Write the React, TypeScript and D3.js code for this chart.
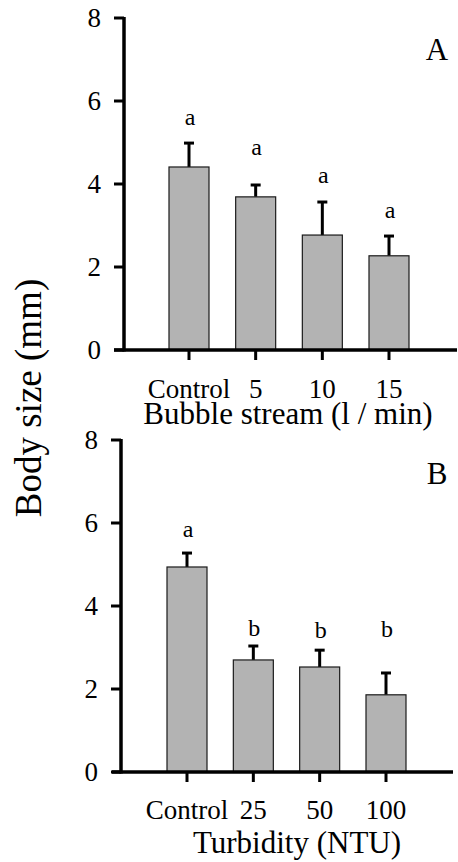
import React from "react";
import * as d3 from "d3";

const yTicks = [0, 2, 4, 6, 8];

const catsA = ["Control", "5", "10", "15"];
const meansA = [4.41, 3.69, 2.77, 2.27];
const errA = [0.6, 0.31, 0.82, 0.5];
const lettersA = ["a", "a", "a", "a"];
const letterLevelA = [5.42, 4.7, 4.02, 3.18];

const catsB = ["Control", "25", "50", "100"];
const meansB = [4.94, 2.7, 2.53, 1.86];
const errB = [0.36, 0.36, 0.43, 0.55];
const lettersB = ["a", "b", "b", "b"];
const letterLevelB = [5.66, 3.28, 3.23, 3.25];

const FONT = "Liberation Serif";

type PanelProps = {
  cats: string[];
  means: number[];
  errs: number[];
  letters: string[];
  letterLevels: number[];
  axisX: number;
  xStart: number;
  xEnd: number;
  firstCenter: number;
  lastCenter: number;
  yTop: number;
  yBottom: number;
  xTitle: string;
  xTitleX: number;
  xTitleY: number;
  tickLabelY: number;
  panelLabel: string;
  panelLabelY: number;
};

function Panel(p: PanelProps) {
  const y = d3.scaleLinear().domain([0, 8]).range([p.yBottom, p.yTop]);
  const x = d3.scalePoint<string>().domain(p.cats).range([p.firstCenter, p.lastCenter]);
  const bw = 40;
  return (
    <g>
      {p.cats.map((c, i) => {
        const cx = x(c)!;
        const top = y(p.means[i]);
        const et = y(p.means[i] + p.errs[i]);
        return (
          <g key={c}>
            <line x1={cx} x2={cx} y1={top} y2={et} stroke="#000" strokeWidth={3} />
            <line x1={cx - 5} x2={cx + 5} y1={et + 1} y2={et + 1} stroke="#000" strokeWidth={3} />
            <rect x={cx - bw / 2} y={top} width={bw} height={y(0) - top} fill="#b3b3b3" stroke="#1a1a1a" strokeWidth={1.2} />
            <text x={cx + 1} y={y(p.letterLevels[i])} style={{ fontFamily: FONT, fontSize: 24 }} textAnchor="middle">
              {p.letters[i]}
            </text>
            <line x1={cx} x2={cx} y1={y(0)} y2={y(0) + 10} stroke="#000" strokeWidth={3} />
            <text x={cx} y={p.tickLabelY} style={{ fontFamily: FONT, fontSize: 27 }} textAnchor="middle">
              {c}
            </text>
          </g>
        );
      })}
      <line x1={p.axisX} x2={p.axisX} y1={p.yTop - 1} y2={p.yBottom + 1.5} stroke="#000" strokeWidth={3.5} />
      <line x1={p.xStart} x2={p.xEnd} y1={p.yBottom} y2={p.yBottom} stroke="#000" strokeWidth={3.5} />
      {yTicks.map((t) => (
        <g key={t}>
          <line x1={p.axisX - 10} x2={p.axisX} y1={y(t)} y2={y(t)} stroke="#000" strokeWidth={3} />
          <text x={p.axisX - 23} y={y(t) + 9} style={{ fontFamily: FONT, fontSize: 27 }} textAnchor="end">
            {t}
          </text>
        </g>
      ))}
      <text x={p.xTitleX} y={p.xTitleY} style={{ fontFamily: FONT, fontSize: 31 }} textAnchor="middle">
        {p.xTitle}
      </text>
      <text x={437} y={p.panelLabelY} style={{ fontFamily: FONT, fontSize: 31 }} textAnchor="middle">
        {p.panelLabel}
      </text>
    </g>
  );
}

export default function App() {
  return (
    <svg
      width={458}
      height={862}
      style={{ position: "absolute", left: 0, top: 0, background: "#fff" }}
    >
      <rect width={458} height={862} fill="#fff" />
      <Panel
        cats={catsA}
        means={meansA}
        errs={errA}
        letters={lettersA}
        letterLevels={letterLevelA}
        axisX={124}
        xStart={114}
        xEnd={457}
        firstCenter={189}
        lastCenter={389}
        yTop={18}
        yBottom={350}
        xTitle="Bubble stream (l / min)"
        xTitleX={288}
        xTitleY={424}
        tickLabelY={398}
        panelLabel="A"
        panelLabelY={60}
      />
      <Panel
        cats={catsB}
        means={meansB}
        errs={errB}
        letters={lettersB}
        letterLevels={letterLevelB}
        axisX={121}
        xStart={112}
        xEnd={453}
        firstCenter={187}
        lastCenter={386}
        yTop={440}
        yBottom={772}
        xTitle="Turbidity (NTU)"
        xTitleX={297}
        xTitleY={853}
        tickLabelY={819}
        panelLabel="B"
        panelLabelY={484}
      />
      <text
        transform="translate(41,398) rotate(-90)"
        style={{ fontFamily: FONT, fontSize: 37 }}
        textAnchor="middle"
      >
        Body size (mm)
      </text>
    </svg>
  );
}
